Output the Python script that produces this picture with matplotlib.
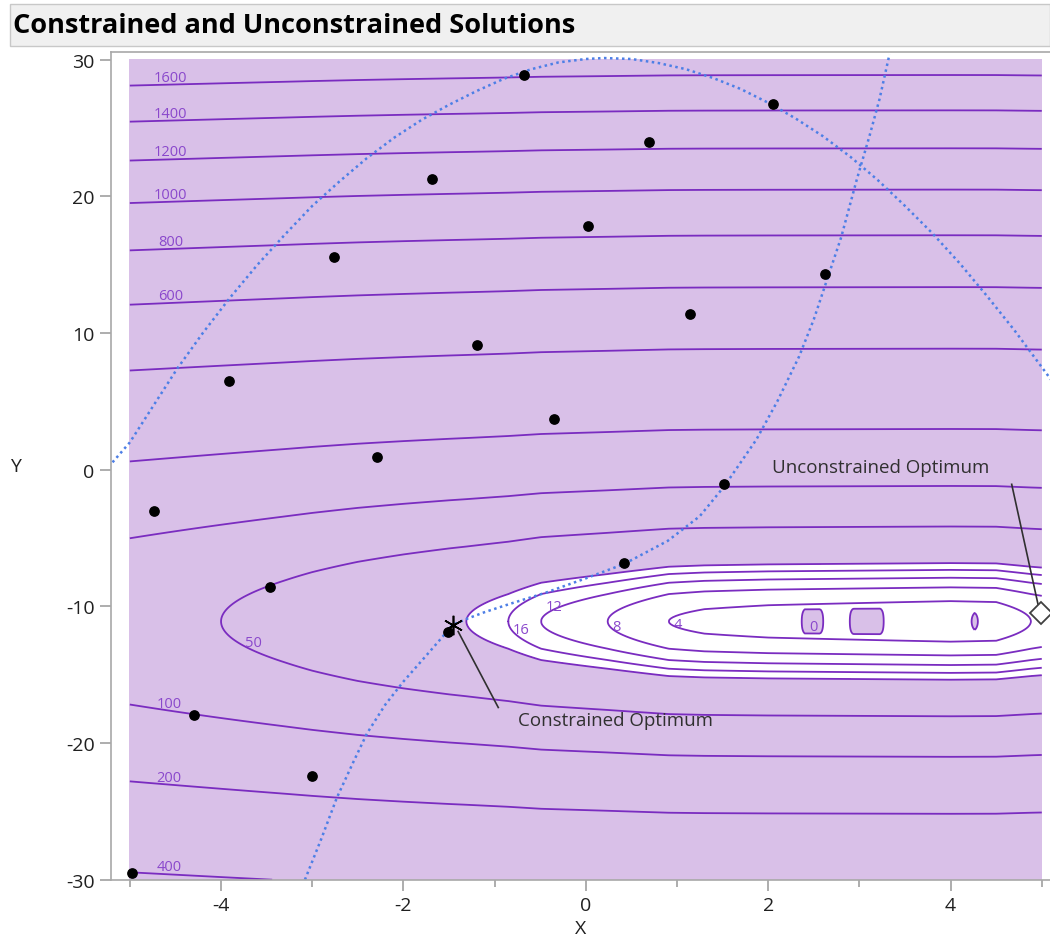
import numpy as np
import matplotlib
matplotlib.use("Agg")
import matplotlib.pyplot as plt
from matplotlib.patches import Rectangle

plt.rcParams["font.family"] = ["Open Sans", "DejaVu Sans"]
plt.rcParams["axes.unicode_minus"] = False

# --- DATA ---
# sample points
pts_x = [-4.74, -3.91, -2.76, -1.69, -0.68, 0.69, 2.05, 2.62, 1.14, 0.02,
         -1.19, -0.35, -2.29, 1.51, 0.42, -3.46, -1.51, -4.30, -3.00, -4.98]
pts_y = [-3.05, 6.47, 15.55, 21.26, 28.88, 23.97, 26.75, 14.31, 11.38, 17.82,
         9.11, 3.69, 0.90, -1.07, -6.86, -8.62, -11.91, -17.92, -22.38, -29.49]

# objective surface: z = (Y - y_center)^2 + profile(X) - pits near the valley floor
y_center = -11.1
prof_x = [-5.0, -4.0, -3.3, -3.0, -2.5, -2.0, -1.5, -1.31, -0.85, -0.49, 0.24, 0.91,
          1.3, 2.0, 3.0, 4.0, 4.5, 4.88, 5.0]
prof_g = [63, 50, 41, 37, 31, 26, 21.5, 20, 16, 12, 8, 4,
          3.2, 2.6, 2.2, 1.8, 2.0, 4.0, 4.5]
# three small pits where the surface drops below 0
pit_x = [2.35, 2.40, 2.57, 2.62, 2.88, 2.93, 3.23, 3.28, 4.18, 4.265, 4.35]
pit_d = [0, 7.0, 7.0, 0, 0, 7.6, 7.6, 0, 0, 3.2, 0]
pit_halfwidth = 1.2

levels = [0, 4, 8, 12, 16, 20, 50, 100, 200, 400, 600, 800, 1000, 1200, 1400, 1600]
upper_labels = [600, 800, 1000, 1200, 1400, 1600]
lower_labels = [100, 200, 400]
inner_labels = [16, 12, 8, 4, 0]

# constraint curves
c1_x = [-5.19, -5.0, -4.75, -4.48, -4.2, -3.9, -3.6, -3.3, -3.0, -2.7, -2.4, -2.1,
        -1.8, -1.5, -1.2, -0.9, -0.6, -0.3, 0.0, 0.2, 0.5, 0.8, 1.1, 1.4, 1.7,
        2.0, 2.3, 2.6, 2.9, 3.2, 3.5, 3.8, 4.1, 4.4, 4.7, 5.0, 5.1]
c1_y = [0.54, 2.0, 4.6, 7.4, 10.0, 12.6, 15.0, 17.2, 19.3, 21.1, 22.8, 24.3,
        25.6, 26.7, 27.7, 28.6, 29.3, 29.8, 30.05, 30.12, 30.05, 29.75, 29.3, 28.65, 27.85,
        26.85, 25.7, 24.4, 22.9, 21.2, 19.3, 17.3, 15.1, 12.7, 10.2, 7.5, 6.6]
c2_x = [-3.08, -2.9, -2.73, -2.55, -2.4, -2.2, -2.0, -1.75, -1.6, -1.46, -1.3,
        -1.1, -0.8, -0.44, 0.0, 0.42, 0.9, 1.25, 1.52, 1.87, 2.1, 2.34, 2.5,
        2.65, 2.8, 2.97, 3.11, 3.22, 3.33]
c2_y = [-30.0, -27.0, -24.0, -21.4, -19.3, -17.2, -15.5, -13.6, -12.45, -11.35, -10.9,
        -10.4, -9.75, -9.0, -7.95, -6.9, -5.2, -3.4, -1.2, 2.2, 5.0, 8.3, 11.0,
        14.0, 17.0, 21.2, 24.4, 27.1, 30.4]

constrained_opt = (-1.46, -11.33)
unconstrained_opt = (4.99, -10.52)

# --- PLOT ---
lav = "#d9c0e8"
purple = "#7a2cc0"
lab_purple = "#8a48cc"
blue = "#4d7fe6"

fig = plt.figure(figsize=(10.5, 9.53), dpi=100)
fig.patches.append(Rectangle((10 / 1050, 1 - 47 / 953), 1040 / 1050, 42 / 953,
                             transform=fig.transFigure, facecolor="#f0f0f0",
                             edgecolor="#c8c8c8", lw=1))
fig.text(13 / 1050, 1 - 26 / 953, "Constrained and Unconstrained Solutions",
         fontsize=19.5, fontweight="bold", va="center", ha="left")

ax = fig.add_axes([110.7 / 1050, 72.3 / 953, 939.3 / 1050, 827.4 / 953])

gx = np.linspace(-5, 5, 801)
gy = np.linspace(-30, 30, 601)
X, Y = np.meshgrid(gx, gy)
G = np.interp(gx, prof_x, prof_g)
D = np.interp(gx, pit_x, pit_d)
U2 = (Y - y_center) ** 2
Z = U2 + G[None, :] - D[None, :] * np.clip(1 - U2 / pit_halfwidth ** 2, 0, None)

ax.contourf(X, Y, Z, levels=[-1e9, 0, 20, 1e9], colors=[lav, "white", lav])
ax.contour(X, Y, Z, levels=levels, colors=purple, linewidths=1.3)

def g_at(x):
    return np.interp(x, prof_x, prof_g)

for lv in upper_labels:
    xl = -4.55
    ax.text(xl, y_center + np.sqrt(lv - g_at(xl)), str(lv), color=lab_purple,
            fontsize=10.5, ha="center", va="bottom")
for lv in lower_labels:
    xl = -4.57
    ax.text(xl, y_center - np.sqrt(lv - g_at(xl)), str(lv), color=lab_purple,
            fontsize=10.5, ha="center", va="bottom")
ax.text(-3.65, y_center - np.sqrt(50 - g_at(-3.65)), "50", color=lab_purple,
        fontsize=10.5, ha="center", va="bottom")
# inner labels sit at the left tip of each closed contour
dec_x = prof_x[:12][::-1]
dec_g = prof_g[:12][::-1]
for lv, dy in zip(inner_labels, [-0.6, 1.1, -0.4, -0.2, -0.4]):
    tip = np.interp(lv, dec_g, dec_x) if lv > 0 else pit_x[1]
    ax.text(tip + 0.05, y_center + dy, str(lv), color=lab_purple,
            fontsize=10.5, ha="left", va="center")

ax.plot(c1_x, c1_y, color=blue, lw=1.8, linestyle=(0, (1, 1.4)))
ax.plot(c2_x, c2_y, color=blue, lw=1.8, linestyle=(0, (1, 1.4)))

ax.scatter(pts_x, pts_y, s=45, color="black", zorder=5)

# optimum markers and annotations
ax.plot(*constrained_opt, marker=(6, 2, 0), ms=14, color="black", mew=1.2, zorder=6)
ax.plot(*unconstrained_opt, marker="D", ms=11, mfc="white", mec="#404040",
        mew=1.3, zorder=6, clip_on=False)
ax.plot([4.67, 4.97], [-1.07, -10.2], color="#303030", lw=1.2)
ax.text(3.23, 0.17, "Unconstrained Optimum", fontsize=13.5, color="#303030",
        ha="center", va="center")
ax.plot([-1.40, -0.96], [-11.84, -17.40], color="#303030", lw=1.2)
ax.text(0.32, -18.28, "Constrained Optimum", fontsize=13.5, color="#303030",
        ha="center", va="center")

ax.set_xlim(-5.21, 5.09)
ax.set_ylim(-30, 30.54)
ax.set_xticks([-4, -2, 0, 2, 4])
ax.set_xticks([-5, -3, -1, 1, 3, 5], minor=True)
ax.set_yticks([-30, -20, -10, 0, 10, 20, 30])
ax.tick_params(axis="both", colors="#a0a0a0", labelcolor="#202020", labelsize=14,
               length=8, width=1.2)
ax.tick_params(axis="x", which="minor", colors="#a0a0a0", length=5, width=1.2)
for s in ["left", "bottom", "top"]:
    ax.spines[s].set_color("#a8a8a8")
    ax.spines[s].set_linewidth(1.2)
ax.spines["right"].set_visible(False)

ax.set_xlabel("X", fontsize=14, color="#202020", labelpad=4)
fig.text(15 / 1050, 1 - 467 / 953, "Y", fontsize=14, color="#202020",
         ha="center", va="center")

fig.savefig("out.png", dpi=100)
